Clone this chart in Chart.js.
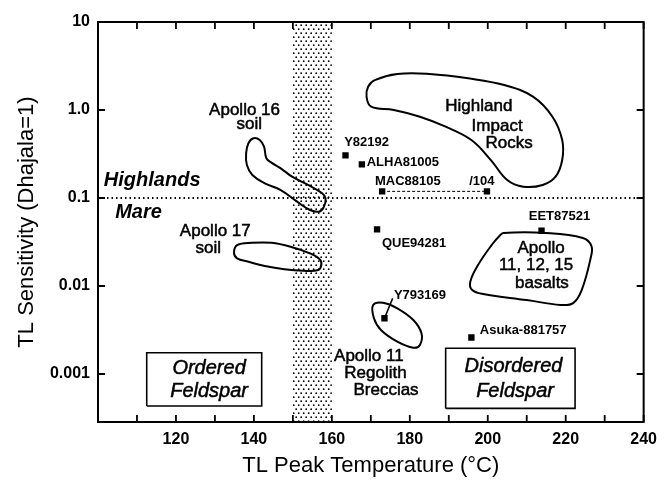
<!DOCTYPE html>
<html>
<head>
<meta charset="utf-8">
<script src="https://cdn.jsdelivr.net/npm/chart.js@4.4.1/dist/chart.umd.min.js"></script>
<style>
  html, body { margin: 0; padding: 0; background: #fff; }
  canvas { display: block; }
</style>
</head>
<body>
<canvas id="tlChart" width="665" height="481"></canvas>
<script>
// Meteorite / sample points: TL peak temperature (°C) and TL sensitivity (Dhajala = 1)
const sampleNames = ['Y82192', 'ALHA81005', 'MAC88105', '/104', 'QUE94281', 'EET87521', 'Y793169', 'Asuka-881757'];
const samplePeakTemps = [163.5, 167.7, 172.9, 199.8, 171.6, 213.8, 173.5, 195.8];
const sampleSensitivities = [0.305, 0.241, 0.119, 0.119, 0.044, 0.0425, 0.0043, 0.0026];

// Field outlines, traced as [peak temperature, sensitivity]
const apollo16Soil = [[139.9, 0.477], [141.5, 0.456], [142.6, 0.383], [143.2, 0.283], [144.5, 0.252], [146.9, 0.2175],
  [149.8, 0.1746], [154.4, 0.137], [157.5, 0.113], [158.4, 0.0992], [157.9, 0.0784], [156.7, 0.0699], [154.4, 0.0731],
  [151.1, 0.0908], [146.9, 0.1233], [142.8, 0.1469], [139.6, 0.1825], [138.2, 0.237], [138.0, 0.322], [138.6, 0.419]];
const apollo17Soil = [[135.7, 0.0292], [139.5, 0.031], [144.5, 0.031], [149.4, 0.028], [154.4, 0.0235], [156.9, 0.0201],
  [157.3, 0.01733], [156.5, 0.0152], [152.7, 0.0149], [147.8, 0.01549], [142.8, 0.01687], [138.6, 0.01888],
  [135.7, 0.02064], [134.9, 0.0239]];
const highlandImpactRocks = [[171.0, 2.19], [176.8, 2.57], [185.1, 2.57], [195.0, 2.29], [204.2, 1.92], [211.6, 1.416],
  [216.6, 0.839], [219.1, 0.456], [219.1, 0.27], [217.4, 0.1745], [214.1, 0.1406], [209.1, 0.1344], [205.0, 0.16],
  [200.8, 0.27], [195.8, 0.456], [189.2, 0.646], [182.6, 0.839], [175.9, 1.0], [170.1, 1.09], [168.9, 1.416], [169.3, 1.84]];
const apolloBasalts = [[204.0, 0.04], [214.9, 0.04], [224.4, 0.0351], [226.6, 0.0285], [226.4, 0.0208], [224.1, 0.009],
  [221.9, 0.0064], [218.7, 0.0061], [210.0, 0.00693], [198.8, 0.0081], [196.0, 0.009], [195.5, 0.0111],
  [197.5, 0.0173], [201.2, 0.03], [203.0, 0.037]];
const apollo11Breccias = [[170.6, 0.00608], [173.1, 0.00646], [176.8, 0.00558], [180.9, 0.00411], [183.0, 0.0029],
  [182.6, 0.00214], [180.9, 0.00199], [176.8, 0.00233], [172.6, 0.00316], [170.8, 0.0043]];

// Feldspar boxes: [xMin, xMax, yMin, yMax]
const orderedBox = [112.5, 142.0, 0.000433, 0.001746];
const disorderedBox = [189.2, 222.4, 0.000407, 0.00196];

// Stippled band and highlands/mare divide
const bandRange = [150, 160];
const divideLevel = 0.1;

// Axes
const xRange = [100, 240];
const yRange = [0.000285, 10];
const yTickValues = [0.001, 0.01, 0.1, 1, 10];
const yTickLabels = ['0.001', '0.01', '0.1', '1.0', '10'];

const FONT = "'Liberation Sans', Arial, Helvetica, sans-serif";
Chart.defaults.font.family = FONT;
Chart.defaults.color = '#000';

const textLabels = [
  { text: 'Apollo 16', x: 137.6, y: 1.0, font: '17px' },
  { text: 'soil', x: 138.8, y: 0.693, font: '17px' },
  { text: 'Apollo 17', x: 130.1, y: 0.0414, font: '17px' },
  { text: 'soil', x: 128.3, y: 0.0268, font: '17px' },
  { text: 'Highlands', x: 113.9, y: 0.16, font: 'italic bold 20px' },
  { text: 'Mare', x: 110.4, y: 0.0693, font: 'italic bold 20px' },
  { text: 'Highland', x: 197.7, y: 1.09, font: '17px' },
  { text: 'Impact', x: 202.4, y: 0.658, font: '17px' },
  { text: 'Rocks', x: 205.5, y: 0.419, font: '17px' },
  { text: 'Apollo', x: 213.7, y: 0.0268, font: '17px' },
  { text: '11, 12, 15', x: 212.4, y: 0.01733, font: '17px' },
  { text: 'basalts', x: 213.9, y: 0.01074, font: '17px' },
  { text: 'Apollo 11', x: 169.5, y: 0.001574, font: '17px' },
  { text: 'Regolith', x: 171.2, y: 0.00102, font: '17px' },
  { text: 'Breccias', x: 173.9, y: 0.000658, font: '17px' },
  { text: 'Ordered', x: 128.5, y: 0.00116, font: 'italic 20px' },
  { text: 'Feldspar', x: 128.5, y: 0.00063, font: 'italic 20px' },
  { text: 'Disordered', x: 206.6, y: 0.00123, font: 'italic 20px' },
  { text: 'Feldspar', x: 207.0, y: 0.00063, font: 'italic 20px' },
  { text: sampleNames[0], x: 168.9, y: 0.425, font: 'bold 13px' },
  { text: sampleNames[1], x: 178.2, y: 0.252, font: 'bold 13px' },
  { text: sampleNames[2], x: 179.5, y: 0.156, font: 'bold 13px' },
  { text: sampleNames[3], x: 198.5, y: 0.156, font: 'bold 13px' },
  { text: sampleNames[4], x: 181.1, y: 0.0306, font: 'bold 13px' },
  { text: sampleNames[5], x: 218.4, y: 0.0613, font: 'bold 13px' },
  { text: sampleNames[6], x: 182.6, y: 0.0079, font: 'bold 13px' },
  { text: sampleNames[7], x: 209.1, y: 0.00316, font: 'bold 13px' }
];
// end of the Y793169 leader line
const leaderEnd = [175.6, 0.00724];

// Turn an outline into a smooth closed loop (first/last helper segments hidden)
function closedOutline(points) {
  const n = points.length;
  const loop = [points[n - 1], ...points, points[0], points[1]];
  return {
    type: 'line',
    data: loop.map(p => ({ x: p[0], y: p[1] })),
    borderColor: '#000',
    borderWidth: 2,
    tension: 0.4,
    pointRadius: 0,
    fill: false,
    segment: {
      borderColor: ctx => (ctx.p0DataIndex === 0 || ctx.p0DataIndex === n + 1) ? 'rgba(0,0,0,0)' : '#000'
    }
  };
}

function boxOutline(b) {
  return {
    type: 'line',
    data: [{ x: b[0], y: b[2] }, { x: b[1], y: b[2] }, { x: b[1], y: b[3] }, { x: b[0], y: b[3] }, { x: b[0], y: b[2] }],
    borderColor: '#000',
    borderWidth: 1.6,
    pointRadius: 0,
    tension: 0,
    fill: false
  };
}

// Dot pattern for the stippled band
function makeStipple(ctx) {
  const c = document.createElement('canvas');
  c.width = 5;
  c.height = 8;
  const g = c.getContext('2d');
  g.fillStyle = '#000';
  g.beginPath();
  g.arc(1.2, 1.2, 0.9, 0, Math.PI * 2);
  g.arc(3.7, 5.2, 0.9, 0, Math.PI * 2);
  g.fill();
  return ctx.createPattern(c, 'repeat');
}

const bandPlugin = {
  id: 'band',
  beforeDatasetsDraw(chart) {
    const { ctx, chartArea: a, scales: { x } } = chart;
    const x0 = x.getPixelForValue(bandRange[0]);
    const x1 = x.getPixelForValue(bandRange[1]);
    ctx.save();
    ctx.fillStyle = makeStipple(ctx);
    ctx.fillRect(x0, a.top, x1 - x0, a.bottom - a.top);
    ctx.restore();
  }
};

const textPlugin = {
  id: 'texts',
  afterDatasetsDraw(chart) {
    const { ctx, scales: { x, y } } = chart;
    ctx.save();
    ctx.fillStyle = '#000';
    ctx.strokeStyle = '#000';
    ctx.lineWidth = 0.5;
    ctx.lineJoin = 'round';
    ctx.textAlign = 'center';
    ctx.textBaseline = 'middle';
    textLabels.forEach(l => {
      const px = x.getPixelForValue(l.x);
      const py = y.getPixelForValue(l.y);
      ctx.font = l.font + ' ' + FONT;
      ctx.fillText(l.text, px, py);
      // scanned originals look a little heavier than the plain face
      if (l.font.indexOf('bold') < 0) ctx.strokeText(l.text, px, py);
    });
    ctx.restore();
  }
};

// Frame plus inward tick marks on all four sides
const framePlugin = {
  id: 'frame',
  afterDraw(chart) {
    const { ctx, chartArea: a, scales: { x, y } } = chart;
    ctx.save();
    ctx.strokeStyle = '#000';
    ctx.lineWidth = 2;
    ctx.strokeRect(a.left, a.top, a.right - a.left, a.bottom - a.top);
    ctx.lineWidth = 1.8;
    ctx.beginPath();
    x.ticks.forEach(t => {
      const px = x.getPixelForValue(t.value);
      ctx.moveTo(px, a.bottom);
      ctx.lineTo(px, a.bottom - 7);
      ctx.moveTo(px, a.top);
      ctx.lineTo(px, a.top + 7);
    });
    y.ticks.forEach(t => {
      const py = y.getPixelForValue(t.value);
      ctx.moveTo(a.left, py);
      ctx.lineTo(a.left + 7, py);
      ctx.moveTo(a.right, py);
      ctx.lineTo(a.right - 7, py);
    });
    ctx.stroke();
    ctx.restore();
  }
};

const ctx = document.getElementById('tlChart').getContext('2d');

new Chart(ctx, {
  type: 'scatter',
  data: {
    datasets: [
      // highlands / mare divide
      {
        type: 'line',
        data: [{ x: xRange[0], y: divideLevel }, { x: xRange[1], y: divideLevel }],
        borderColor: '#000',
        borderWidth: 1.8,
        borderDash: [1.5, 3],
        pointRadius: 0,
        fill: false
      },
      closedOutline(apollo16Soil),
      closedOutline(apollo17Soil),
      closedOutline(highlandImpactRocks),
      closedOutline(apolloBasalts),
      closedOutline(apollo11Breccias),
      boxOutline(orderedBox),
      boxOutline(disorderedBox),
      // MAC88105 - /104 tie line
      {
        type: 'line',
        data: [{ x: samplePeakTemps[2], y: sampleSensitivities[2] }, { x: samplePeakTemps[3], y: sampleSensitivities[3] }],
        borderColor: '#000',
        borderWidth: 1,
        borderDash: [3, 2],
        pointRadius: 0,
        fill: false
      },
      // Y793169 leader
      {
        type: 'line',
        data: [{ x: samplePeakTemps[6], y: sampleSensitivities[6] }, { x: leaderEnd[0], y: leaderEnd[1] }],
        borderColor: '#000',
        borderWidth: 1.5,
        pointRadius: 0,
        fill: false
      },
      {
        data: samplePeakTemps.map((t, i) => ({ x: t, y: sampleSensitivities[i] })),
        pointStyle: 'rect',
        pointRadius: 4.5,
        backgroundColor: '#000',
        borderWidth: 0
      }
    ]
  },
  options: {
    responsive: false,
    maintainAspectRatio: false,
    devicePixelRatio: 1,
    animation: false,
    layout: { padding: { top: 22, right: 1, left: 0, bottom: 0 } },
    plugins: {
      legend: { display: false },
      tooltip: { enabled: false }
    },
    scales: {
      x: {
        type: 'linear',
        min: xRange[0],
        max: xRange[1],
        grid: { display: false, drawTicks: false },
        border: { display: false },
        ticks: {
          stepSize: 10,
          autoSkip: false,
          maxRotation: 0,
          padding: 8,
          font: { size: 16, weight: 'bold' },
          callback: v => (v > xRange[0] && v % 20 === 0) ? String(v) : ''
        },
        title: {
          display: true,
          text: 'TL Peak Temperature (°C)',
          font: { size: 22 },
          padding: { top: 0, bottom: 2 }
        },
        afterFit: scale => { scale.height = 59; }
      },
      y: {
        type: 'logarithmic',
        min: yRange[0],
        max: yRange[1],
        grid: { display: false, drawTicks: false },
        border: { display: false },
        afterBuildTicks: scale => { scale.ticks = yTickValues.map(v => ({ value: v })); },
        ticks: {
          autoSkip: false,
          padding: 8,
          font: { size: 16, weight: 'bold' },
          callback: v => yTickLabels[yTickValues.indexOf(v)]
        },
        title: {
          display: true,
          text: 'TL Sensitivity (Dhajala=1)',
          font: { size: 22 },
          padding: { top: 14, bottom: 0 }
        },
        afterFit: scale => { scale.width = 98; }
      }
    }
  },
  plugins: [bandPlugin, textPlugin, framePlugin]
});
</script>
</body>
</html>
